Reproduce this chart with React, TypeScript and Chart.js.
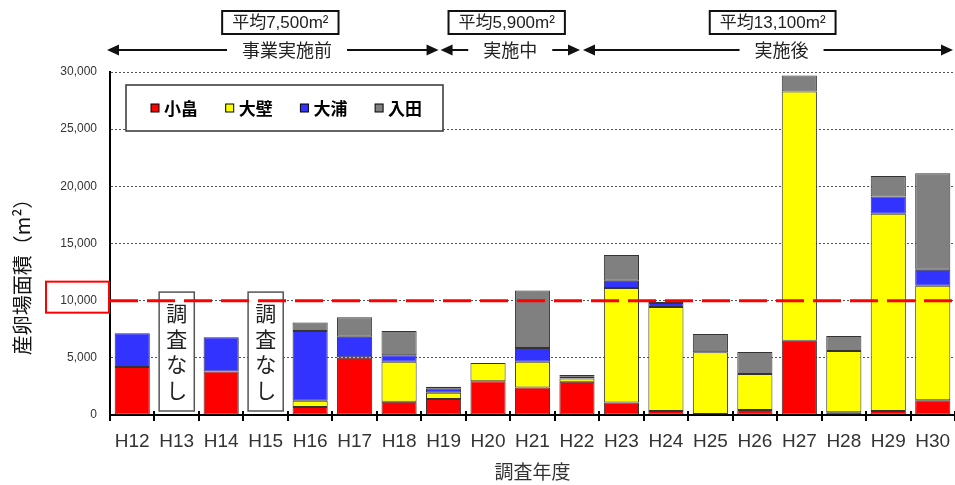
import { useEffect, useRef } from 'react';
import { Chart, registerables } from 'chart.js';

Chart.register(...registerables);

// Survey years (Heisei)
const years = ['H12', 'H13', 'H14', 'H15', 'H16', 'H17', 'H18', 'H19', 'H20', 'H21', 'H22', 'H23', 'H24', 'H25', 'H26', 'H27', 'H28', 'H29', 'H30'];

// Spawning ground area by site (m²)
const kobatake = [4200, null, 3800, null, 700, 5000, 1150, 1400, 2950, 2400, 2900, 1100, 350, 80, 430, 6500, 250, 350, 1300];
const ohkabe = [null, null, null, null, 550, 60, 3500, 550, 1600, 2250, 300, 10000, 9100, 5400, 3150, 21800, 5350, 17250, 10000];
const ohura = [2950, null, 3000, null, 6100, 1790, 570, 380, null, 1200, 150, 650, 350, null, null, null, null, 1500, 1400];
const irita = [null, null, null, null, 750, 1700, 2130, 150, null, 5050, 150, 2250, 100, 1600, 1920, 1400, 1300, 1800, 8450];

const seriesNames = ['小畠', '大壁', '大浦', '入田'];
const seriesColors = ['#ff0000', '#ffff00', '#3333ff', '#808080'];

// Years without a survey
const noSurveyYears = ['H13', 'H15'];
const noSurveyText = ['調', '査', 'な', 'し'];

// Target spawning area
const targetArea = 10000;

// Project periods with their average area
const periodNames = ['事業実施前', '実施中', '実施後'];
const periodAverages = ['平均7,500m²', '平均5,900m²', '平均13,100m²'];

const yTicks = [0, 5000, 10000, 15000, 20000, 25000, 30000];

const LATIN = "'Liberation Sans', 'Noto Sans CJK JP', sans-serif";
const CJK = "'Noto Sans CJK JP', 'Liberation Sans', sans-serif";
const BAR_PCT = 0.79;

// label anchors along the category axis (fractional category index)
const periodTextPos = [3.48, 8.5, 14.6];
const periodBoxPos = [3.33, 8.42, 14.4];

function arrowHead(ctx: CanvasRenderingContext2D, tipX: number, y: number, dir: number) {
  ctx.beginPath();
  ctx.moveTo(tipX, y);
  ctx.lineTo(tipX - dir * 12, y - 5.5);
  ctx.lineTo(tipX - dir * 12, y + 5.5);
  ctx.closePath();
  ctx.fill();
}

const overlayPlugin = {
  id: 'overlay',
  afterDatasetsDraw(chart: any) {
    const { ctx, chartArea, scales } = chart;
    const x = scales.x;
    const y = scales.y;
    const catW = (chartArea.right - chartArea.left) / years.length;
    const barW = catW * BAR_PCT;

    ctx.save();

    // "no survey" placeholders
    noSurveyYears.forEach((yr) => {
      const i = years.indexOf(yr);
      const cx = x.getPixelForValue(i);
      const top = y.getPixelForValue(10750);
      const bottom = y.getPixelForValue(0) - 4;
      ctx.fillStyle = '#ffffff';
      ctx.fillRect(cx - barW / 2, top, barW, bottom - top);
      ctx.strokeStyle = '#555555';
      ctx.lineWidth = 1.5;
      ctx.strokeRect(cx - barW / 2, top, barW, bottom - top);
      ctx.fillStyle = '#222222';
      ctx.font = `21px ${CJK}`;
      ctx.textAlign = 'center';
      ctx.textBaseline = 'middle';
      const mid = (top + bottom) / 2;
      noSurveyText.forEach((ch, k) => {
        ctx.fillText(ch, cx, mid + (k - 1.5) * 25.5);
      });
    });

    // target line
    const ty = y.getPixelForValue(targetArea);
    ctx.strokeStyle = '#ff0000';
    ctx.lineWidth = 3;
    ctx.setLineDash([28, 9]);
    ctx.beginPath();
    ctx.moveTo(chartArea.left, ty);
    ctx.lineTo(chartArea.right, ty);
    ctx.stroke();
    ctx.setLineDash([]);

    // legend
    const lx = 126, ly = 85, lw = 317, lh = 46;
    ctx.fillStyle = '#ffffff';
    ctx.fillRect(lx, ly, lw, lh);
    ctx.strokeStyle = '#333333';
    ctx.lineWidth = 1.5;
    ctx.strokeRect(lx, ly, lw, lh);
    ctx.font = `bold 17px ${CJK}`;
    ctx.textAlign = 'left';
    ctx.textBaseline = 'middle';
    seriesNames.forEach((name, k) => {
      const sx = 151 + k * 74.7;
      const sy = ly + lh / 2;
      ctx.fillStyle = seriesColors[k];
      ctx.fillRect(sx, sy - 4, 8, 8);
      ctx.strokeStyle = '#000000';
      ctx.lineWidth = 1;
      ctx.strokeRect(sx, sy - 4, 8, 8);
      ctx.fillStyle = '#000000';
      ctx.fillText(name, sx + 13, sy + 1);
    });

    ctx.restore();
  },
  afterDraw(chart: any) {
    const { ctx, chartArea, scales } = chart;
    const x = scales.x;
    const y = scales.y;
    const catW = (chartArea.right - chartArea.left) / years.length;

    ctx.save();

    // category boundary ticks crossing the axis
    ctx.strokeStyle = '#000000';
    ctx.lineWidth = 2;
    for (let k = 0; k <= years.length; k++) {
      const tx = Math.round(chartArea.left + k * catW);
      ctx.beginPath();
      ctx.moveTo(tx, chartArea.bottom - 4);
      ctx.lineTo(tx, chartArea.bottom + 6);
      ctx.stroke();
    }

    // highlight around the 10,000 tick label
    const ty = y.getPixelForValue(targetArea);
    ctx.strokeStyle = '#ff0000';
    ctx.lineWidth = 2;
    ctx.strokeRect(46, ty - 19, 63, 31);

    // y axis title
    ctx.save();
    ctx.translate(22, 272);
    ctx.rotate(-Math.PI / 2);
    ctx.fillStyle = '#111111';
    ctx.font = `20px ${CJK}`;
    ctx.textAlign = 'center';
    ctx.textBaseline = 'middle';
    ctx.fillText('産卵場面積（m²）', 0, 0);
    ctx.restore();

    // period arrows
    const ay = 50;
    const b0 = chartArea.left - 3;
    const b1 = x.getPixelForValue(years.indexOf('H19')) - 5;
    const b2 = x.getPixelForValue(years.indexOf('H22')) + 3;
    const b3 = chartArea.right - 2;
    const spans = [
      [b0, b1],
      [b1 + 2, b2],
      [b2 + 3, b3],
    ];
    ctx.font = `18px ${CJK}`;
    ctx.textAlign = 'center';
    ctx.textBaseline = 'middle';
    spans.forEach(([a, b], k) => {
      const c = x.getPixelForValue(periodTextPos[k]);
      const tw = ctx.measureText(periodNames[k]).width;
      ctx.fillStyle = '#222222';
      ctx.fillText(periodNames[k], c, ay);
      ctx.strokeStyle = '#111111';
      ctx.fillStyle = '#111111';
      ctx.lineWidth = 2;
      ctx.beginPath();
      ctx.moveTo(a + 6, ay);
      ctx.lineTo(c - tw / 2 - 15, ay);
      ctx.moveTo(c + tw / 2 + 15, ay);
      ctx.lineTo(b - 6, ay);
      ctx.stroke();
      arrowHead(ctx, a, ay, -1);
      arrowHead(ctx, b, ay, 1);
    });

    // period averages
    ctx.font = `17px ${LATIN}`;
    periodAverages.forEach((label, k) => {
      const tw = ctx.measureText(label).width;
      const bw = tw + 20;
      const cx = x.getPixelForValue(periodBoxPos[k]);
      ctx.fillStyle = '#ffffff';
      ctx.fillRect(cx - bw / 2, 11, bw, 23);
      ctx.strokeStyle = '#111111';
      ctx.lineWidth = 2;
      ctx.strokeRect(cx - bw / 2, 11, bw, 23);
      ctx.fillStyle = '#222222';
      ctx.fillText(label, cx, 23.5);
    });

    ctx.restore();
  },
};

export default function App() {
  const canvasRef = useRef<HTMLCanvasElement>(null);

  useEffect(() => {
    const series = [kobatake, ohkabe, ohura, irita];
    const chart = new Chart(canvasRef.current as HTMLCanvasElement, {
      type: 'bar',
      data: {
        labels: years,
        datasets: series.map((values, k) => ({
          label: seriesNames[k],
          data: values,
          backgroundColor: seriesColors[k],
          borderColor: '#333333',
          borderWidth: 1,
          borderSkipped: false,
          barPercentage: BAR_PCT,
          categoryPercentage: 1,
          stack: 'area',
        })),
      },
      options: {
        responsive: false,
        animation: false,
        layout: { padding: { top: 72, right: 0, left: 0, bottom: 0 } },
        plugins: {
          legend: { display: false },
          tooltip: { enabled: false },
        },
        scales: {
          x: {
            stacked: true,
            grid: { display: false },
            border: { display: true, color: '#000000', width: 2 },
            ticks: {
              color: '#333333',
              font: { family: LATIN, size: 19 },
              padding: 7,
              maxRotation: 0,
              autoSkip: false,
            },
            title: {
              display: true,
              text: '調査年度',
              color: '#333333',
              font: { family: CJK, size: 19 },
              padding: { top: 2, bottom: 2 },
            },
            afterFit: (s: any) => {
              s.height = 70;
              s.paddingLeft = 0;
              s.paddingRight = 0;
            },
          },
          y: {
            stacked: true,
            min: 0,
            max: 30000,
            afterBuildTicks: (s: any) => {
              s.ticks = yTicks.map((v) => ({ value: v }));
            },
            grid: { color: '#555555', lineWidth: 1, drawTicks: false },
            border: { display: true, color: '#000000', width: 2, dash: [2, 2] },
            ticks: {
              color: '#333333',
              font: { family: LATIN, size: 12 },
              padding: 13,
              callback: (v: any) => Number(v).toLocaleString('en-US'),
            },
            afterFit: (s: any) => {
              s.width = 110;
              s.paddingTop = 0;
              s.paddingBottom = 0;
            },
          },
        },
      },
      plugins: [overlayPlugin],
    } as any);
    return () => chart.destroy();
  }, []);

  return (
    <div style={{ position: 'fixed', left: 0, top: 0, width: 955, height: 485, background: '#ffffff' }}>
      <canvas ref={canvasRef} width={955} height={485} style={{ display: 'block', width: 955, height: 485 }} />
    </div>
  );
}
